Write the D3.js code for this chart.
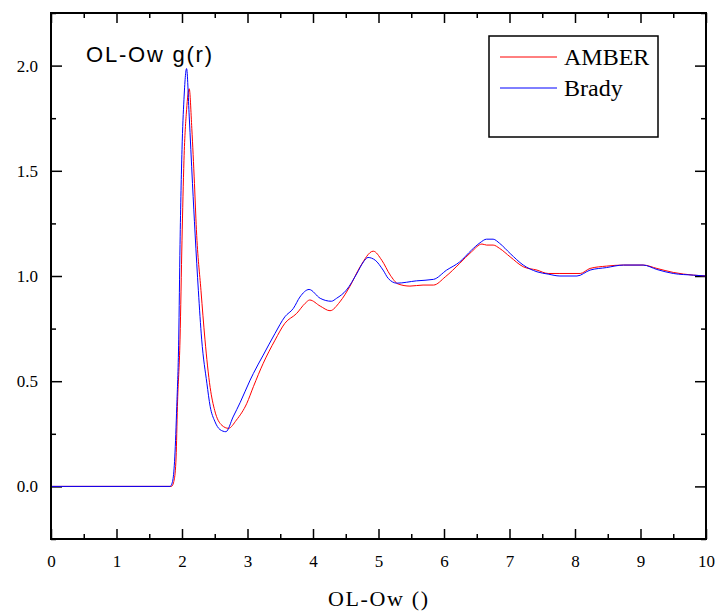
<!DOCTYPE html>
<html>
<head>
<meta charset="utf-8">
<script src="https://cdn.jsdelivr.net/npm/d3@7"></script>
<style>
    body { margin: 0; background: #fff; }
    .axis path { display: none; }
    .axis line { stroke: #000; stroke-width: 1.5; }
</style>
</head>
<body>
<svg id="chart"></svg>
<script>
// g(r), r in the x unit
const amberR = [0, 1.84, 1.88, 1.91, 1.93, 1.97, 2.00, 2.03, 2.07, 2.11, 2.15, 2.19, 2.22, 2.29, 2.35, 2.43, 2.50, 2.61, 2.71, 2.83, 2.99, 3.09, 3.24, 3.42, 3.57, 3.75, 3.88, 3.95, 4.11, 4.26, 4.41, 4.56, 4.72, 4.92, 5.05, 5.18, 5.30, 5.48, 5.68, 5.84, 6.02, 6.24, 6.42, 6.58, 6.65, 6.75, 6.85, 7.01, 7.21, 7.42, 7.59, 7.77, 8.08, 8.23, 8.48, 8.74, 9.04, 9.25, 9.50, 9.81, 10];
const amberG = [0, 0, 0.03, 0.14, 0.38, 0.70, 1.17, 1.55, 1.79, 1.89, 1.70, 1.44, 1.22, 0.93, 0.70, 0.47, 0.36, 0.29, 0.276, 0.315, 0.395, 0.474, 0.585, 0.695, 0.775, 0.822, 0.87, 0.886, 0.857, 0.835, 0.877, 0.949, 1.044, 1.118, 1.075, 1.004, 0.962, 0.952, 0.957, 0.957, 0.996, 1.06, 1.115, 1.152, 1.147, 1.147, 1.131, 1.091, 1.044, 1.028, 1.012, 1.012, 1.012, 1.036, 1.047, 1.052, 1.052, 1.036, 1.017, 1.004, 1.0];

const bradyR = [0, 1.82, 1.86, 1.89, 1.92, 1.95, 1.97, 2.00, 2.03, 2.07, 2.11, 2.16, 2.20, 2.25, 2.30, 2.38, 2.43, 2.50, 2.58, 2.67, 2.78, 2.89, 3.04, 3.09, 3.24, 3.42, 3.57, 3.70, 3.80, 3.94, 4.11, 4.28, 4.36, 4.51, 4.67, 4.77, 4.84, 4.95, 5.07, 5.15, 5.28, 5.58, 5.84, 6.04, 6.24, 6.42, 6.55, 6.65, 6.75, 6.85, 7.01, 7.21, 7.42, 7.59, 7.77, 8.03, 8.23, 8.48, 8.74, 9.04, 9.25, 9.50, 9.81, 10];
const bradyG = [0, 0, 0.03, 0.14, 0.38, 0.70, 1.15, 1.60, 1.84, 1.986, 1.76, 1.44, 1.20, 0.93, 0.70, 0.49, 0.38, 0.31, 0.27, 0.26, 0.33, 0.40, 0.505, 0.537, 0.624, 0.727, 0.806, 0.846, 0.90, 0.936, 0.894, 0.88, 0.894, 0.933, 1.012, 1.067, 1.088, 1.075, 1.028, 0.988, 0.966, 0.977, 0.984, 1.028, 1.067, 1.123, 1.158, 1.175, 1.175, 1.155, 1.107, 1.052, 1.02, 1.009, 1.0, 1.0, 1.028, 1.04, 1.052, 1.052, 1.031, 1.012, 1.004, 1.0];

const xTicks = [0, 1, 2, 3, 4, 5, 6, 7, 8, 9, 10];
const xMinorTicks = [0.5, 1.5, 2.5, 3.5, 4.5, 5.5, 6.5, 7.5, 8.5, 9.5];
const yTicks = [0, 0.5, 1.0, 1.5, 2.0];
const yMinorTicks = [-0.25, 0.25, 0.75, 1.25, 1.75, 2.25];

const seriesNames = ['AMBER', 'Brady'];
const seriesColors = ['#ff0000', '#0000ff'];

const SERIF = '"Liberation Serif", "Times New Roman", serif';
const SANS = '"Liberation Sans", Arial, sans-serif';

const WIDTH = 717;
const HEIGHT = 611;
const margin = { top: 13, right: 11, bottom: 72, left: 51 };
const plotW = WIDTH - margin.left - margin.right;
const plotH = HEIGHT - margin.top - margin.bottom;

const svg = d3.select('#chart').attr('width', WIDTH).attr('height', HEIGHT);
const g = svg.append('g').attr('transform', `translate(${margin.left}, ${margin.top})`);

const xCoord = d3.scaleLinear().domain([0, 10]).range([0, plotW]);
const yCoord = d3.scaleLinear().domain([-0.25, 2.25]).range([plotH, 0]);

// axes, ticks pointing inward on all four sides
const addAxis = (axis, transform) => {
    const axisG = g.append('g').attr('class', 'axis').attr('transform', transform).call(axis);
    axisG.attr('font-family', SERIF).attr('font-size', 17);
    axisG.selectAll('text').attr('fill', '#000');
    return axisG;
};

addAxis(d3.axisBottom(xCoord).tickValues(xTicks).tickSize(-10).tickPadding(16).tickFormat(d3.format('d')),
    `translate(0, ${plotH})`);
addAxis(d3.axisBottom(xCoord).tickValues(xMinorTicks).tickSize(-5).tickFormat(''), `translate(0, ${plotH})`);
addAxis(d3.axisTop(xCoord).tickValues(xTicks).tickSize(-10).tickFormat(''), 'translate(0, 0)');
addAxis(d3.axisTop(xCoord).tickValues(xMinorTicks).tickSize(-5).tickFormat(''), 'translate(0, 0)');

addAxis(d3.axisLeft(yCoord).tickValues(yTicks).tickSize(-11).tickPadding(13).tickFormat(d3.format('.1f')),
    'translate(0, 0)');
addAxis(d3.axisLeft(yCoord).tickValues(yMinorTicks).tickSize(-5).tickFormat(''), 'translate(0, 0)');
addAxis(d3.axisRight(yCoord).tickValues(yTicks).tickSize(-11).tickFormat(''), `translate(${plotW}, 0)`);
addAxis(d3.axisRight(yCoord).tickValues(yMinorTicks).tickSize(-5).tickFormat(''), `translate(${plotW}, 0)`);

// curves
const line = d3.line()
    .x(d => xCoord(d[0]))
    .y(d => yCoord(d[1]))
    .curve(d3.curveMonotoneX);

const series = [
    d3.zip(amberR, amberG),
    d3.zip(bradyR, bradyG),
];

series.forEach((points, i) => {
    g.append('path')
        .attr('d', line(points))
        .attr('fill', 'none')
        .attr('stroke', seriesColors[i])
        .attr('stroke-width', 1);
});

// frame
g.append('rect')
    .attr('width', plotW)
    .attr('height', plotH)
    .attr('fill', 'none')
    .attr('stroke', '#000')
    .attr('stroke-width', 2);

// panel title
g.append('text')
    .attr('x', 35)
    .attr('y', 48.5)
    .attr('font-family', SANS)
    .attr('font-size', 22)
    .attr('textLength', 126)
    .attr('lengthAdjust', 'spacing')
    .text('OL-Ow g(r)');

// legend
const legend = g.append('g').attr('transform', `translate(${489 - margin.left}, ${36 - margin.top})`);
legend.append('rect')
    .attr('width', 169)
    .attr('height', 101)
    .attr('fill', '#fff')
    .attr('stroke', '#000')
    .attr('stroke-width', 1.5);

seriesNames.forEach((name, i) => {
    const yy = 21 + i * 31;
    legend.append('line')
        .attr('x1', 11)
        .attr('x2', 68)
        .attr('y1', yy)
        .attr('y2', yy)
        .attr('stroke', seriesColors[i])
        .attr('stroke-width', 1);
    legend.append('text')
        .attr('x', 75)
        .attr('y', yy + 8)
        .attr('font-family', SERIF)
        .attr('font-size', 24)
        .text(name);
});

// x axis title
svg.append('text')
    .attr('x', 328)
    .attr('y', 606)
    .attr('font-family', SERIF)
    .attr('font-size', 22)
    .attr('textLength', 100)
    .attr('lengthAdjust', 'spacing')
    .text('OL-Ow ()');
</script>
</body>
</html>
